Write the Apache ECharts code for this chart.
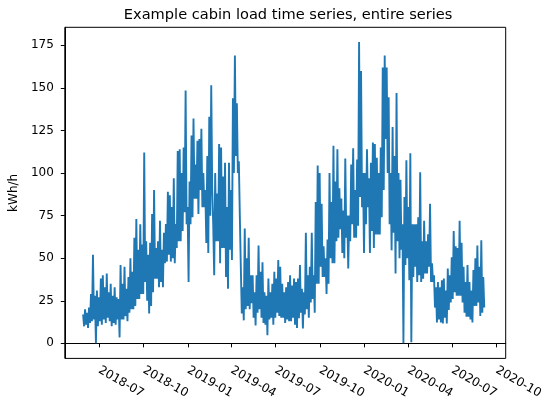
<!DOCTYPE html>
<html>
<head>
<meta charset="utf-8">
<script src="https://cdn.jsdelivr.net/npm/echarts@6/dist/echarts.min.js"></script>
<style>
  html, body { margin: 0; padding: 0; background: #fff; }
  #chart { width: 547px; height: 407px; }
</style>
</head>
<body>
<div id="chart"></div>
<script>
// Cabin electricity load (kWh/h): highest and lowest reading in each ~4-day window
const seriesStart = '2018-05-28T10:00:00Z';
const windowHours = 98;
const loadHigh = [
  17, 20, 18, 21, 29, 52, 28, 31, 27, 38,
  40, 33, 41, 30, 35, 28, 33, 27, 26, 46,
  35, 45, 32, 39, 50, 42, 62, 73, 55, 70,
  58, 112, 60, 52, 59, 76, 90, 56, 60, 72,
  55, 65, 70, 89, 87, 80, 97, 70, 113, 114,
  100, 115, 148.5, 80, 95, 122, 132, 105, 119, 120,
  126, 100, 90, 110, 133, 151.5, 70, 100, 88, 117,
  115, 98, 106, 80, 106, 90, 144, 169, 141, 107,
  45, 33, 67.5, 50, 62, 40, 40, 30, 40, 57.5,
  42, 47.6, 30, 28, 38, 30, 35, 42, 38, 49,
  45, 35, 30, 33, 36, 40, 34, 38, 36, 38,
  46, 32, 30, 65, 40, 45, 65, 40, 83, 104.5,
  100, 82, 57, 50, 61, 100, 83, 116, 95, 114,
  91, 85, 78, 108.6, 75, 75, 105, 114.5, 90, 108,
  177, 160, 100, 100, 114, 97, 106, 118, 117, 109,
  100, 115, 162, 169, 162, 144.5, 100, 127, 110, 147,
  100, 96, 70, 86, 107.5, 80, 111.6, 70, 70, 70,
  74, 100.4, 60, 72, 60, 64, 82, 47, 40, 33,
  36, 33, 37, 38, 31, 44, 40, 50.5, 66, 57,
  56, 72, 59, 45, 36, 46, 36, 31, 43, 50,
  57.5, 45, 60.5, 39
];
const loadLow = [
  10, 11, 9, 12, 13, 14, 0, 10, 13, 11,
  14, 12, 15, 13, 10, 12, 11, 14, 3.5, 14,
  14, 16, 13, 18, 20, 20, 22, 26, 26, 29,
  29, 36, 25, 17.6, 22, 30, 38, 38, 33, 36,
  33, 47, 48, 52, 48, 50, 47, 56, 60, 60,
  66, 77, 70, 36, 70, 74, 85, 85, 76, 90,
  80, 80, 59, 53, 75, 90, 40, 60, 60, 47,
  56, 56, 39, 32, 55, 49, 100, 110, 100, 75,
  17.6, 13.5, 20, 22, 20, 23.5, 15, 10.5, 18, 20,
  15, 12, 11, 4.7, 14, 15, 11, 15, 18, 16,
  15, 15, 12, 14, 13, 13, 15, 11, 9, 14.7,
  18, 8.8, 17, 20, 15, 24, 26, 18, 35, 35,
  45, 39, 39, 29, 35, 50, 47, 47, 60, 62,
  67, 53, 50, 62, 44, 60, 70, 62, 62, 69,
  86, 80, 53, 70, 80, 53, 66, 56, 64, 64,
  64, 74, 90, 120, 100, 70, 54.6, 65, 41, 60,
  50, 55, 0, 46, 50, 37, 0.6, 39, 45, 36,
  40, 36, 38, 41, 41, 45, 36, 36, 21, 12.3,
  14, 12.3, 11.7, 15, 11.7, 19.6, 24, 26, 30, 28,
  28, 28, 24, 18, 15.6, 15.6, 14, 12.3, 22, 22,
  24, 16, 18, 21
];

// Axis ticks
const monthTicks = ['2018-07', '2018-10', '2019-01', '2019-04', '2019-07',
                    '2019-10', '2020-01', '2020-04', '2020-07', '2020-10'];
const yTicks = [0, 25, 50, 75, 100, 125, 150, 175];

const HOUR = 3600000;
const toTime = s => {
  const p = s.split('-').map(Number);
  return Date.UTC(p[0], p[1] - 1, p[2] || 1);
};
const t0 = Date.parse(seriesStart);

// Each window contributes its peak, then its trough half a window later
const points = [];
loadHigh.forEach((hi, k) => {
  const start = t0 + k * windowHours * HOUR;
  points.push([start, hi]);
  points.push([start + (windowHours / 2) * HOUR, loadLow[k]]);
});
const tickTimes = monthTicks.map(toTime);

const fmtMonth = v => {
  const d = new Date(v);
  const m = d.getUTCMonth() + 1;
  return d.getUTCFullYear() + '-' + (m < 10 ? '0' + m : m);
};

const chart = echarts.init(document.getElementById('chart'), null, { renderer: 'canvas' });
const font = 'DejaVu Sans';
const gridLeft = 60.5, gridRight = 41.3;
chart.setOption({
  animation: false,
  backgroundColor: '#ffffff',
  title: {
    text: 'Example cabin load time series, entire series',
    left: gridLeft + (547 - gridLeft - gridRight) / 2,
    textAlign: 'center',
    top: 3,
    textStyle: { fontFamily: font, fontSize: 14.6, fontWeight: 'normal', color: '#000' }
  },
  grid: {
    left: gridLeft, right: gridRight, top: 27.3, bottom: 48.6,
    show: true, borderColor: '#000', borderWidth: 1, backgroundColor: 'transparent'
  },
  xAxis: {
    type: 'value',
    min: Date.parse('2018-04-20T12:00:00Z'),
    max: Date.parse('2020-10-19T19:00:00Z'),
    splitLine: { show: false },
    axisLine: { show: true, lineStyle: { color: '#000', width: 1 } },
    axisTick: { show: true, length: 4, lineStyle: { color: '#000' }, customValues: tickTimes },
    axisLabel: {
      customValues: tickTimes,
      formatter: fmtMonth,
      rotate: -30,
      margin: 11,
      fontFamily: font, fontSize: 12, color: '#000'
    }
  },
  yAxis: {
    type: 'value',
    min: -8.84,
    max: 185.6,
    name: 'kWh/h',
    nameLocation: 'middle',
    nameGap: 38,
    nameTextStyle: { fontFamily: font, fontSize: 12, color: '#000' },
    splitLine: { show: false },
    axisLine: { show: true, lineStyle: { color: '#000', width: 1 } },
    axisTick: { show: true, length: 4, lineStyle: { color: '#000' }, customValues: yTicks },
    axisLabel: {
      customValues: yTicks,
      margin: 11,
      fontFamily: font, fontSize: 12, color: '#000'
    }
  },
  series: [{
    type: 'line',
    data: points,
    showSymbol: false,
    symbol: 'none',
    sampling: null,
    lineStyle: { color: '#1f77b4', width: 1.9, join: 'miter' },
    itemStyle: { color: '#1f77b4' }
  }]
});
</script>
</body>
</html>
